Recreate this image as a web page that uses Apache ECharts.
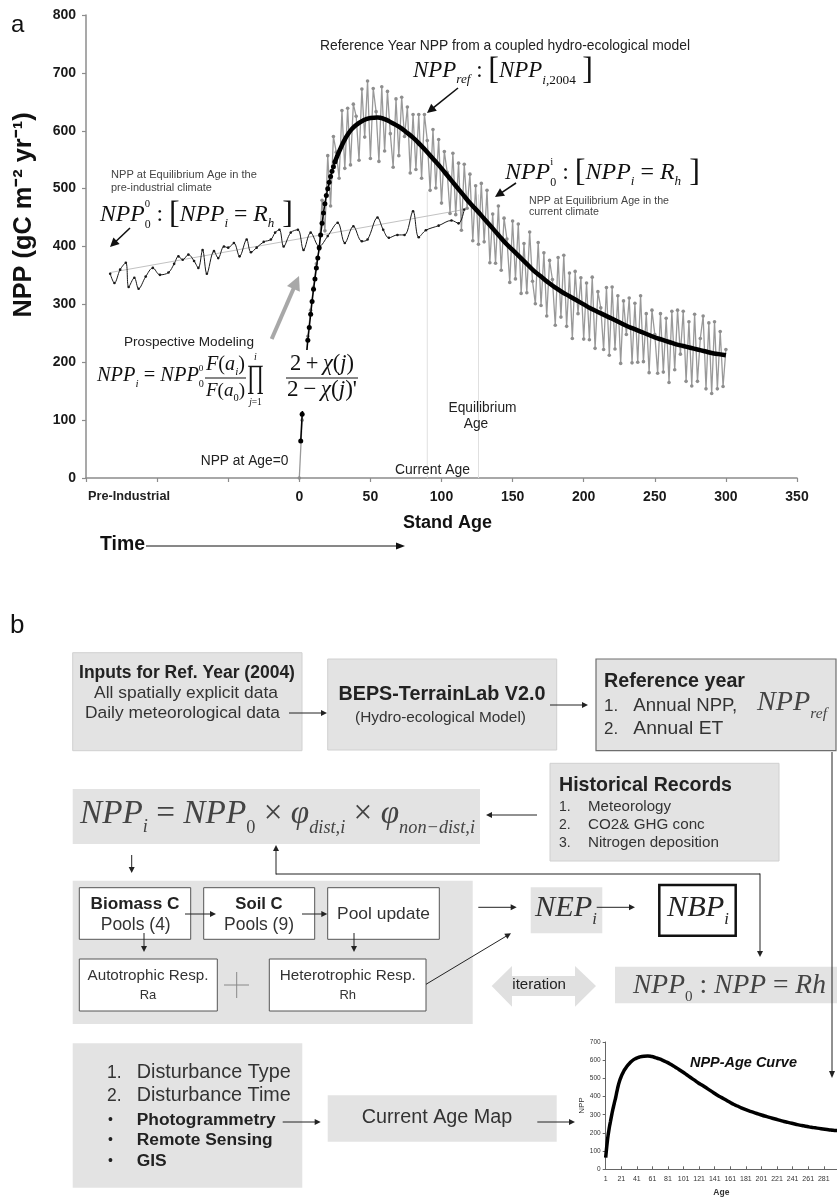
<!DOCTYPE html>
<html><head><meta charset="utf-8">
<script src="https://cdn.jsdelivr.net/npm/echarts@6/dist/echarts.min.js"></script>
<style>html,body{margin:0;padding:0;background:#fff}#c{width:837px;height:1200px}</style>
</head><body><div id="c"></div>
<script>
// ---------------- data ----------------
const xTickMin = -150, xTickMax = 350, xTickStep = 50;
const yTickMin = 0, yTickMax = 800, yTickStep = 100;
const miniXMin = 1, miniXMax = 298, miniXStep = 20;
const miniYMax = 700, miniYStep = 100;

// Pre-industrial climate NPP series (thin black)
const preAges = [-133,-130,-126,-122,-120,-116,-113,-108,-103,-98,-92,-88,-85,-82,-78,-74,-71,-68,-65,-60,-57,-53,-50,-46,-42,-37,-34,-30,-25,-20,-17,-14,-11,-6,-1,3,8,14,20,27,32,38,44,48,55,59,63,69,74,80,84,89,98,107,112,116];
const preValues = [353,337,360,372,330,346,327,348,363,351,355,370,383,377,386,375,363,394,353,392,380,400,398,406,383,412,390,398,408,412,424,429,400,424,429,394,424,400,418,441,406,435,409,412,450,429,415,420,420,461,416,428,436,445,440,464];

// Linear trend of the pre-industrial series
const trendAges = [-133, 116];
const trendValues = [355, 464];

// Reference-year NPP with inter-annual variability (grey), one value every 2 years from age 0
const refStep = 2;
const refValues = [
  0,100,175,245,290,330,370,395,
  480,427,557,470,590,563,518,635,
  535,639,541,646,625,549,672,589,
  686,552,673,633,547,676,565,668,
  595,537,655,557,658,590,641,527,
  628,533,628,518,628,583,497,602,
  501,585,475,564,528,457,561,455,
  544,428,542,466,525,410,505,404,
  509,408,497,372,456,371,470,359,
  449,413,338,444,344,439,319,405,
  320,425,340,301,407,298,389,280,
  376,343,264,381,278,385,262,354,
  241,357,284,346,240,337,239,347,
  224,322,294,222,329,212,330,223,
  315,198,306,248,311,199,302,200,
  315,201,284,182,290,248,181,284,
  183,276,165,288,187,290,214,288,
  167,270,159,283,167,241,280,154,
  268,146,270,154,253,158,222
];

// NPP-age curve: early yearly points (dots) and smooth curve
const earlyAges = [1,2,3,4,5,6,7,8,9,10,11,12,13,14,15,16,17,18,19,20,21,22,23,24,25];
const earlyValues = [64,110,150,185,212,238,260,283,305,326,344,363,380,398,420,440,458,474,488,500,511,521,530,538,546];
const curveAges = [25,30,35,40,45,50,55,60,65,70,75,80,85,90,95,100,105,110,115,120,125,130,135,140,145,150,155,160,165,170,175,180,185,190,195,200,205,210,215,220,225,230,235,240,245,250,255,260,265,270,275,280,285,290,295,300];
const curveValues = [546,575,597,610,618,622,623,620,614,607,598,588,576,563,549,535,520,505,490,475,462,448,434,420,406,394,382,370,358,348,338,329,321,314,307,300,293,287,281,275,269,263,258,253,248,243,239,235,231,228,225,222,219,216,214,212];

const currentAge = 90, currentAgeTop = 495;
const equilibriumAge = 126, equilibriumAgeTop = 490;

// ---------------- helpers for annotations / diagram ----------------
const G = [];
const SANS = '"Liberation Sans", Arial, sans-serif';
const SERIF = '"Liberation Serif", "Times New Roman", serif';
const mc = document.createElement('canvas').getContext('2d');
function fnt(size, o) { return (o.it ? 'italic ' : '') + (o.b ? 'bold ' : '') + size.toFixed(2) + 'px ' + (o.f || SANS); }
function fit(text, size, o, w) { mc.font = fnt(size, o); return size * w / mc.measureText(text).width; }
function T(x, y, text, size, o) {
  o = o || {};
  if (o.w) size = fit(text, size, o, o.w);
  G.push({type:'text', x:x, y:y, z:60, silent:true, rotation:o.rot||0, scaleY:o.sy||1,
    style:{text:text, font:fnt(size,o), fill:o.c||'#222', textAlign:o.a||'left', align:o.a||'left',
      textVerticalAlign:'middle', verticalAlign:'middle'}});
  return size;
}
function R(x, y, w, h, o) {
  o = o || {};
  G.push({type:'rect', z:o.z||50, silent:true, shape:{x:x, y:y, width:w, height:h},
    style:{fill:o.fill||'#e3e3e3', stroke:o.stroke||null, lineWidth:o.lw||1}});
}
function L(x1, y1, x2, y2, o) {
  o = o || {};
  G.push({type:'line', z:o.z||58, silent:true, shape:{x1:x1,y1:y1,x2:x2,y2:y2}, style:{stroke:o.c||'#222', lineWidth:o.lw||1}});
}
function A(x1, y1, x2, y2, o) {
  o = o || {};
  const c = o.c || '#222', hl = o.hl || 6, hw = o.hw || 3;
  const dx = x2 - x1, dy = y2 - y1, len = Math.hypot(dx, dy), ux = dx / len, uy = dy / len;
  const bx = x2 - ux * hl, by = y2 - uy * hl;
  L(x1, y1, bx + ux, by + uy, {c:c, lw:o.lw||1, z:o.z});
  G.push({type:'polygon', z:o.z||58, silent:true, shape:{points:[[x2,y2],[bx-uy*hw,by+ux*hw],[bx+uy*hw,by-ux*hw]]}, style:{fill:c}});
}
// math layout: pieces [text, relSize, dy(em of main), flags] flags: n=upright, x=no advance
function M(x, base, S, pieces, o) {
  o = o || {};
  const f = (p, s) => ((p[3]||'').includes('n') ? '' : 'italic ') + s.toFixed(2) + 'px ' + SERIF;
  const width = sc => { let w = 0; pieces.forEach(p => { if ((p[3]||'').includes('x')) return; mc.font = f(p, S*sc*p[1]); w += mc.measureText(p[0]).width; }); return w; };
  let sc = 1; if (o.w) sc = o.w / width(1);
  const Ss = S * sc, tw = width(sc);
  let cx = x; if (o.a === 'center') cx = x - tw / 2;
  pieces.forEach(p => {
    const s = Ss * p[1]; mc.font = f(p, s); const w = mc.measureText(p[0]).width;
    const by = base + p[2] * Ss;
    G.push({type:'text', z:60, silent:true, x:cx, y:by - 0.34 * s,
      style:{text:p[0], font:f(p, s), fill:o.c||'#111', textAlign:'left', align:'left', textVerticalAlign:'middle', verticalAlign:'middle'}});
    if (!(p[3]||'').includes('x')) cx += w;
  });
  return tw;
}

// ---------------- panel a annotations ----------------
T(11, 25, 'a', 24, {c:'#111'});
T(24, 215, 'NPP (gC m\u207B\u00B2 yr\u207B\u00B9)', 20, {b:true, a:'center', rot:Math.PI/2, w:205, c:'#111'});
T(320, 46.5, 'Reference Year NPP from a coupled hydro-ecological model', 12, {w:370, c:'#222'});
M(413, 79, 24, [['NPP',1,0],['ref',0.58,0.22],[' : ',1,0,'n'],['[',1.4,0.1,'n'],['NPP',1,0],['i',0.58,0.25],[',2004',0.58,0.25,'n'],['\u2009]',1.4,0.1,'n']], {w:180});
A(458, 88, 427, 113, {lw:1.6, hl:9, hw:4.5, c:'#111', z:61});
T(111, 175, 'NPP at Equilibrium Age in the', 9, {w:146, c:'#444'});
T(111, 187.5, 'pre-industrial climate', 9, {w:101, c:'#444'});
M(100, 223, 27, [['NPP',1,0],['0',0.45,-0.62,'nx'],['0',0.5,0.25,'n'],[' : ',1,0,'n'],['[',1.35,0.1,'n'],['NPP',1,0],['i',0.55,0.22],[' = ',1,0,'n'],['R',1,0],['h',0.55,0.22],[' ]',1.35,0.1,'n']], {w:193});
A(130, 228, 110, 247, {lw:1.6, hl:9, hw:4.5, c:'#111', z:61});
M(505, 181, 27, [['NPP',1,0],['i',0.45,-0.62,'nx'],['0',0.5,0.25,'n'],[' : ',1,0,'n'],['[',1.35,0.1,'n'],['NPP',1,0],['i',0.55,0.22],[' = ',1,0,'n'],['R',1,0],['h',0.55,0.22],[' ]',1.35,0.1,'n']], {w:195});
T(529, 201, 'NPP at Equilibrium Age in the', 9, {w:140, c:'#444'});
T(529, 212.5, 'current climate', 9, {w:70, c:'#444'});
A(516, 183, 495, 197, {lw:1.6, hl:9, hw:4.5, c:'#111', z:61});
A(271.7, 339, 299, 276, {lw:4, hl:14, hw:7, c:'#a8a8a8', z:61});
T(124, 342.5, 'Prospective Modeling', 12, {w:130, c:'#222'});
// prospective formula (white background hides the curve under it)
R(94, 350, 268, 61, {fill:'#ffffff', z:55});
M(97, 383, 21, [['NPP',1,0],['i',0.55,0.22],[' = ',1,0,'n'],['NPP',1,0],['0',0.45,-0.55,'nx'],['0',0.5,0.25,'n']], {w:107});
M(225.5, 371.5, 19, [['F',1,0],['(',1,0,'n'],['a',1,0],['i',0.55,0.22],[')',1,0,'n']], {a:'center', w:39});
M(225.5, 397.5, 19, [['F',1,0],['(',1,0,'n'],['a',1,0],['0',0.55,0.22,'n'],[')',1,0,'n']], {a:'center', w:39});
L(205, 378, 246, 378, {c:'#111', lw:1.1, z:60});
T(255.5, 378, '\u220F', 21, {f:SERIF, a:'center', sy:1.55, c:'#111'});
M(255.5, 361, 10, [['i',1,0]], {a:'center'});
M(255.5, 406, 9.5, [['j',1,0],['=1',1,0,'n']], {a:'center'});
M(322, 371.5, 20, [['2',1,0,'n'],['\u2009+\u2009',1,0,'n'],['\u03C7',1,0],['(',1,0,'n'],['j',1,0],[')',1,0,'n']], {a:'center', w:64});
M(322, 397.5, 20, [['2',1,0,'n'],['\u2009\u2212\u2009',1,0,'n'],['\u03C7',1,0],['(',1,0,'n'],['j',1,0],[")'",1,0,'n']], {a:'center', w:70});
L(286, 378, 358, 378, {c:'#111', lw:1.1, z:60});
T(200.7, 461.5, 'NPP at Age=0', 12, {w:87.7, c:'#222'});
T(395, 470, 'Current Age', 12, {w:75, c:'#222'});
const eqS = T(482.5, 408.5, 'Equilibrium', 12, {w:68, a:'center', c:'#222'});
T(476, 424.5, 'Age', eqS, {a:'center', c:'#222'});
T(88, 496.5, 'Pre-Industrial', 12, {w:82, b:true, c:'#222'});
T(403, 523, 'Stand Age', 16, {w:89, b:true, c:'#111'});
T(100, 545, 'Time', 18, {w:45, b:true, c:'#111'});
A(146, 546, 405, 546, {lw:1, hl:9, hw:3.5, c:'#111'});

// ---------------- panel b diagram ----------------
T(10, 626, 'b', 26, {c:'#111'});
const GREY = '#e3e3e3';
R(72.7, 652.7, 229.3, 98, {fill:GREY, stroke:'#d0d0d0'});
T(187, 673, 'Inputs for Ref. Year (2004)', 15, {w:216, b:true, a:'center', c:'#222'});
T(186, 693, 'All spatially explicit data', 15, {w:184, a:'center', c:'#333'});
T(182.5, 713, 'Daily meteorological data', 15, {w:195, a:'center', c:'#333'});
A(289, 713, 327, 713);
R(327.7, 659, 229, 91, {fill:GREY, stroke:'#d0d0d0'});
T(442, 695, 'BEPS-TerrainLab V2.0', 16, {w:207, b:true, a:'center', c:'#222'});
T(440.5, 718, '(Hydro-ecological Model)', 13, {w:171, a:'center', c:'#333'});
A(550, 705, 588, 705);
R(596, 659, 240, 91.7, {fill:GREY, stroke:'#6e6e6e', lw:1.2});
T(604, 682, 'Reference year', 17, {w:141, b:true, c:'#222'});
T(604, 706, '1.', 17, {c:'#333'});
T(633.3, 706, 'Annual NPP,', 17, {w:104, c:'#333'});
T(604, 729, '2.', 17, {c:'#333'});
T(633.3, 729, 'Annual ET', 17, {w:90, c:'#333'});
M(757, 712, 26, [['NPP',1,0],['ref',0.55,0.25]], {w:70, c:'#444'});
A(832, 752, 832, 1078, {hl:7, hw:3});
R(550, 763.3, 229, 97.7, {fill:GREY, stroke:'#d0d0d0'});
T(559, 786, 'Historical Records', 18, {w:173, b:true, c:'#222'});
T(559, 807, '1.', 14, {c:'#333'}); T(588, 807, 'Meteorology', 14, {w:83, c:'#333'});
T(559, 825, '2.', 14, {c:'#333'}); T(588, 825, 'CO2& GHG conc', 14, {w:116.7, c:'#333'});
T(559, 843, '3.', 14, {c:'#333'}); T(588, 843, 'Nitrogen deposition', 14, {w:131, c:'#333'});
A(537, 815, 486, 815);
R(72.7, 789, 407.3, 55, {fill:GREY});
M(80, 826, 34, [['NPP',1,0],['i',0.55,0.22],[' = ',1,0,'n'],['NPP',1,0],['0',0.55,0.25,'n'],[' \u00D7 ',1,0,'n'],['\u03C6',1,0],['dist,i',0.55,0.25],[' \u00D7 ',1,0,'n'],['\u03C6',1,0],['non\u2212dist,i',0.55,0.25]], {w:395, c:'#444'});
A(131.7, 855, 131.7, 873);
G.push({type:'polyline', z:58, silent:true, shape:{points:[[276,874],[760,874]]}, style:{stroke:'#222', lineWidth:1, fill:null}});
A(276, 874.5, 276, 845);
A(760, 873.5, 760, 957);
R(72.7, 880.7, 400, 143.3, {fill:GREY});
R(79.3, 887.7, 111.4, 51.6, {fill:'#fff', stroke:'#555', z:52});
R(203.7, 887.7, 111, 51.6, {fill:'#fff', stroke:'#555', z:52});
R(327.7, 887.7, 111.6, 51.6, {fill:'#fff', stroke:'#555', z:52});
T(135, 904, 'Biomass C', 15, {w:89, b:true, a:'center', c:'#222'});
T(135.7, 925, 'Pools (4)', 15, {w:70, a:'center', c:'#333'});
T(259, 904, 'Soil C', 15, {w:47.3, b:true, a:'center', c:'#222'});
T(259, 925, 'Pools (9)', 15, {w:70, a:'center', c:'#333'});
T(383.5, 914, 'Pool update', 15, {w:93, a:'center', c:'#333'});
A(185, 914, 216, 914); A(302, 914, 327.3, 914);
A(144, 933, 144, 952); A(354, 933, 354, 952);
R(79.3, 959, 138, 52, {fill:'#fff', stroke:'#555', z:52});
R(269.3, 959, 156.7, 52, {fill:'#fff', stroke:'#555', z:52});
T(148, 976, 'Autotrophic Resp.', 13, {w:121, a:'center', c:'#333'});
T(148, 995, 'Ra', 13, {a:'center', c:'#333'});
T(347.7, 976, 'Heterotrophic Resp.', 13, {w:136, a:'center', c:'#333'});
T(347.7, 995, 'Rh', 13, {a:'center', c:'#333'});
L(224, 985, 249, 985, {c:'#888'}); L(236.7, 972, 236.7, 998, {c:'#888'});
A(478.3, 907.3, 516.7, 907.3);
A(426, 984.3, 511, 933.3);
R(530.7, 887.3, 71.6, 46, {fill:GREY});
M(535, 918, 32, [['NEP',1,0],['i',0.55,0.25]], {w:62, c:'#333'});
A(596.7, 907.3, 635, 907.3);
R(659.3, 885, 76.4, 50.7, {fill:'#fff', stroke:'#111', lw:2.5});
M(667, 918, 32, [['NBP',1,0],['i',0.55,0.25]], {w:62, c:'#222'});
G.push({type:'polygon', z:50, silent:true, shape:{points:[[491.7,986],[512,966],[512,976],[575,976],[575,966],[596,986],[575,1006.7],[575,996],[512,996],[512,1006.7]]}, style:{fill:'#e0e0e0'}});
T(512.3, 985, 'iteration', 14, {w:53.7, c:'#222'});
R(615, 966.7, 222, 36.6, {fill:GREY});
M(633, 995, 32, [['NPP',1,0],['0',0.55,0.25,'n'],[' : ',1,0,'n'],['NPP',1,0],[' = ',1,0,'n'],['Rh',1,0]], {w:193, c:'#444'});
R(72.7, 1043.3, 229.6, 144.4, {fill:GREY});
T(107, 1073, '1.', 17.5, {c:'#333'}); T(136.7, 1073, 'Disturbance Type', 17.5, {w:154, c:'#333'});
T(107, 1096, '2.', 17.5, {c:'#333'}); T(136.7, 1096, 'Disturbance Time', 17.5, {w:154, c:'#333'});
T(108, 1120, '\u2022', 14, {c:'#222'}); T(136.7, 1120, 'Photogrammetry', 15, {w:139, b:true, c:'#222'});
T(108, 1140, '\u2022', 14, {c:'#222'}); T(136.7, 1140, 'Remote Sensing', 15, {w:136, b:true, c:'#222'});
T(108, 1161, '\u2022', 14, {c:'#222'}); T(136.7, 1161, 'GIS', 15, {w:30, b:true, c:'#222'});
A(282.7, 1122, 320.7, 1122);
R(327.7, 1095.3, 229, 46.4, {fill:GREY});
T(437, 1118, 'Current Age Map', 18, {w:150.6, a:'center', c:'#333'});
A(537.3, 1122, 575, 1122);
T(690, 1063, 'NPP-Age Curve', 13, {w:107, b:true, it:true, c:'#111'});

// ---------------- chart ----------------
const chart = echarts.init(document.getElementById('c'), null, {renderer:'canvas'});
const axisGrey = '#8c8c8c';
const pair = (xs, ys) => xs.map((a, i) => [a, ys[i]]);
const miniAges = earlyAges.concat(curveAges.slice(1));
const miniValues = earlyValues.concat(curveValues.slice(1));

chart.setOption({
  animation: false,
  backgroundColor: '#fff',
  grid: [
    {left: 86, top: 15, width: 711, height: 463},
    {left: 605.7, top: 1042, width: 231.3, height: 127.3}
  ],
  xAxis: [
    {type:'value', gridIndex:0, min:xTickMin, max:xTickMax, interval:xTickStep,
     axisLine:{onZero:false, lineStyle:{color:axisGrey, width:1.5}},
     axisTick:{length:4, lineStyle:{color:axisGrey, width:1.2}},
     axisLabel:{formatter: v => (v >= 0 ? String(v) : ''), fontSize:14, fontWeight:'bold', color:'#1a1a1a', margin:12, fontFamily:SANS},
     splitLine:{show:false}},
    {type:'value', gridIndex:1, min:miniXMin, max:miniXMax, interval:miniXStep,
     axisLine:{onZero:false, lineStyle:{color:'#666', width:1}},
     axisTick:{length:3, inside:true, lineStyle:{color:'#666'}},
     axisLabel:{fontSize:7, color:'#333', margin:6, showMaxLabel:false, fontFamily:SANS},
     splitLine:{show:false},
     name:'Age', nameLocation:'middle', nameGap:19, nameTextStyle:{fontSize:8.5, fontWeight:'bold', color:'#333', fontFamily:SANS}}
  ],
  yAxis: [
    {type:'value', gridIndex:0, min:yTickMin, max:yTickMax, interval:yTickStep,
     axisLine:{show:true, onZero:false, lineStyle:{color:axisGrey, width:1.5}},
     axisTick:{show:true, length:4, lineStyle:{color:axisGrey, width:1.2}},
     axisLabel:{fontSize:14, fontWeight:'bold', color:'#1a1a1a', margin:10, fontFamily:SANS},
     splitLine:{show:false}},
    {type:'value', gridIndex:1, min:0, max:miniYMax, interval:miniYStep,
     axisLine:{show:true, onZero:false, lineStyle:{color:'#666', width:1}},
     axisTick:{show:true, length:3, lineStyle:{color:'#666'}},
     axisLabel:{fontSize:6.5, color:'#333', margin:5, fontFamily:SANS},
     splitLine:{show:false},
     name:'NPP', nameLocation:'middle', nameGap:20, nameTextStyle:{fontSize:8, color:'#333', fontFamily:SANS}}
  ],
  series: [
    {type:'line', xAxisIndex:0, yAxisIndex:0, silent:true, z:1, symbol:'none',
     data:[[currentAge, 0], [currentAge, currentAgeTop]], lineStyle:{color:'#e0e0e0', width:1}},
    {type:'line', xAxisIndex:0, yAxisIndex:0, silent:true, z:1, symbol:'none',
     data:[[equilibriumAge, 0], [equilibriumAge, equilibriumAgeTop]], lineStyle:{color:'#e0e0e0', width:1}},
    {name:'trend', type:'line', xAxisIndex:0, yAxisIndex:0, silent:true, z:2, symbol:'none',
     data:pair(trendAges, trendValues), lineStyle:{color:'#c2c2c2', width:1}},
    {name:'reference', type:'line', xAxisIndex:0, yAxisIndex:0, silent:true, z:3,
     data:refValues.map((v, i) => [i * refStep, v]),
     lineStyle:{color:'#999999', width:1.3}, symbol:'circle', symbolSize:3.6, itemStyle:{color:'#8e8e8e'}},
    {name:'preindustrial', type:'line', xAxisIndex:0, yAxisIndex:0, silent:true, z:4, smooth:0.35,
     data:pair(preAges, preValues),
     lineStyle:{color:'#1a1a1a', width:1}, symbol:'circle', symbolSize:2.6, itemStyle:{color:'#1a1a1a'}},
    {name:'early', type:'line', xAxisIndex:0, yAxisIndex:0, silent:true, z:5,
     data:pair(earlyAges, earlyValues),
     lineStyle:{color:'#000', width:1.5}, symbol:'circle', symbolSize:5, itemStyle:{color:'#000'}},
    {name:'curve', type:'line', xAxisIndex:0, yAxisIndex:0, silent:true, z:5, smooth:true, symbol:'none',
     data:pair(curveAges, curveValues), lineStyle:{color:'#000', width:4.5}},
    {name:'mini', type:'line', xAxisIndex:1, yAxisIndex:1, silent:true, smooth:true, symbol:'none',
     data:pair(miniAges, miniValues), lineStyle:{color:'#000', width:3.5}}
  ],
  graphic: {elements: G}
});
</script>
</body></html>
